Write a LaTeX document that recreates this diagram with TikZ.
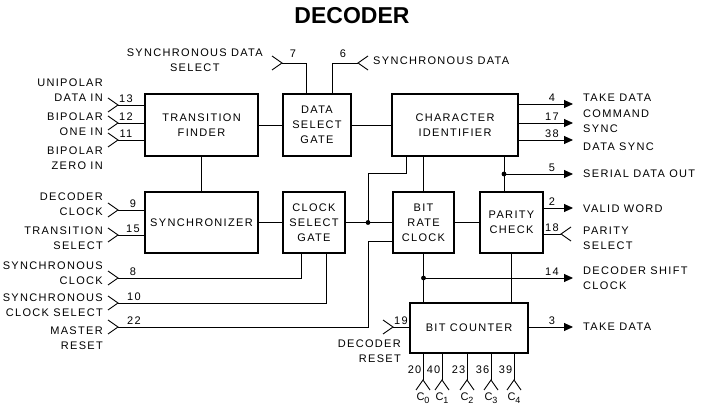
\documentclass[tikz,border=0pt]{standalone}
\usepackage{fontspec}
\setmainfont{Liberation Sans}[LetterSpace=12]
\newfontfamily\titlefont{Liberation Sans}
\usetikzlibrary{arrows.meta,positioning}
\newcommand{\lbl}{\fontsize{11pt}{15pt}\selectfont}
\newcommand{\csub}[1]{C\raisebox{-3pt}{\fontsize{9pt}{9pt}\selectfont #1}}

\begin{document}
\begin{tikzpicture}[
    x=1pt, y=-1pt,
    font=\lbl,
    node distance=25pt,
    blk/.style={draw, line width=1.6pt, outer sep=0pt, align=center, inner sep=0pt, minimum height=62pt},
    wire/.style={line width=0.9pt},
    outp/.style={wire, -{Triangle[length=9pt, width=8pt]}},
    inpin/.pic={\draw[wire] (-10,-7) -- (0,0) -- (-10,7);},
    pinno/.style={anchor=south, yshift=2.5pt, inner sep=0pt},
    cno/.style={anchor=east, inner sep=0pt, xshift=-1.5pt, yshift=10pt},
    clbl/.style={inner sep=0pt, yshift=-18pt},
    lblL/.style={anchor=east, align=right, inner sep=0pt},
    lblR/.style={anchor=west, align=left, inner sep=0pt}
]
\useasboundingbox (0,0) rectangle (704,411);
\node[font=\titlefont\fontsize{23pt}{23pt}\selectfont\bfseries] (title) at (352,16) {DECODER};

% blocks
\node[blk, minimum width=113pt] (tf) at (201.5,125) {TRANSITION\\FINDER};
\node[blk, minimum width=68pt, right=of tf] (dsg) {DATA\\SELECT\\GATE};
\node[blk, minimum width=126pt, right=41pt of dsg] (ci) {CHARACTER\\IDENTIFIER};
\node[blk, minimum width=113pt, minimum height=61pt, below=36pt of tf] (sync) {SYNCHRONIZER};
\node[blk, minimum width=62pt, minimum height=61pt, right=of sync] (csg) {CLOCK\\SELECT\\GATE};
\node[blk, minimum width=61pt, minimum height=61pt, right=48pt of csg] (brc) {BIT\\RATE\\CLOCK};
\node[blk, minimum width=63pt, minimum height=61pt, right=26pt of brc] (pc) {PARITY\\CHECK};
\node[blk, minimum width=118pt, minimum height=50pt] (bc) at (469,328) {BIT COUNTER};

% pin ends
\coordinate (p13) at (118,105);
\coordinate (p12) at (118,123);
\coordinate (p11) at (118,140);
\coordinate (p9) at (118,210);
\coordinate (p15) at (118,235);
\coordinate (p8) at (118,278);
\coordinate (p10) at (118,303);
\coordinate (p22) at (118,327);
\coordinate (p7) at (282,63);
\coordinate (p6) at (358,63);
\coordinate (p19) at (393,327);
\coordinate (p18) at (561,234);
\coordinate (o4) at (573,104);
\coordinate (o17) at (573,123);
\coordinate (o38) at (573,140);
\coordinate (o5) at (573,174);
\coordinate (o2) at (573,208);
\coordinate (o14) at (573,278);
\coordinate (o3) at (573,327);
\coordinate (c0) at (423,380);
\coordinate (c1) at (442,380);
\coordinate (c2) at (467,380);
\coordinate (c3) at (491,380);
\coordinate (c4) at (514,380);

% input markers
\path (p13) pic{inpin} (p12) pic{inpin} (p11) pic{inpin}
      (p9) pic{inpin} (p15) pic{inpin} (p8) pic{inpin}
      (p10) pic{inpin} (p22) pic{inpin} (p7) pic{inpin} (p19) pic{inpin};
\path (p6) pic[rotate=180]{inpin} (p18) pic[rotate=180]{inpin};
\path (c0) pic[rotate=90]{inpin} (c1) pic[rotate=90]{inpin} (c2) pic[rotate=90]{inpin}
      (c3) pic[rotate=90]{inpin} (c4) pic[rotate=90]{inpin};

% block to block
\draw[wire] (tf) -- (dsg);
\draw[wire] (dsg) -- (ci);
\draw[wire] (tf) -- (sync);
\draw[wire] (sync) -- (csg);
\draw[wire] (csg) -- (brc);
\draw[wire] (brc) -- (pc);
\draw[wire] (brc) -- (brc |- ci.south);
\draw[wire] (brc) -- (brc |- bc.north);
\draw[wire] (pc) -- (pc |- bc.north);

% junctions
\coordinate (j1) at ([xshift=23pt]csg.east);
\coordinate (j2) at (504,174);
\coordinate (j3) at (brc.south |- o14);
\draw[wire] (j1) -- ++(0,-49.5) -| ([xshift=14pt]ci.south west);
\draw[wire] (j2 |- ci.south) -- (j2 |- pc.north);
\draw[outp] (j2) -- (o5);
\draw[outp] (j3) -- (o14);
\fill (j1) circle[radius=2.4pt] (j2) circle[radius=2.4pt] (j3) circle[radius=2.4pt];

% inputs
\draw[wire] (p13) -- (tf.west |- p13);
\draw[wire] (p12) -- (tf.west |- p12);
\draw[wire] (p11) -- (tf.west |- p11);
\draw[wire] (p9) -- (sync.west |- p9);
\draw[wire] (p15) -- (sync.west |- p15);
\draw[wire] (p8) -| ([xshift=-13pt]csg.south);
\draw[wire] (p10) -| ([xshift=12pt]csg.south);
\draw[wire] (p22) -| ([xshift=-25pt,yshift=-18.5pt]brc.west) -- ([yshift=-18.5pt]brc.west);
\draw[wire] (p7) -| ([xshift=-11pt]dsg.north);
\draw[wire] (p6) -| ([xshift=15pt]dsg.north);
\draw[wire] (p19) -- (bc.west |- p19);
\draw[wire] (p18) -- (pc.east |- p18);
\draw[wire] (c0) -- (c0 |- bc.south);
\draw[wire] (c1) -- (c1 |- bc.south);
\draw[wire] (c2) -- (c2 |- bc.south);
\draw[wire] (c3) -- (c3 |- bc.south);
\draw[wire] (c4) -- (c4 |- bc.south);

% outputs
\draw[outp] (ci.east |- o4) -- (o4);
\draw[outp] (ci.east |- o17) -- (o17);
\draw[outp] (ci.east |- o38) -- (o38);
\draw[outp] (pc.east |- o2) -- (o2);
\draw[outp] (bc.east |- o3) -- (o3);

% pin numbers
\node[pinno] at ([xshift=8pt]p13) {13};
\node[pinno] at ([xshift=8pt]p12) {12};
\node[pinno] at ([xshift=8pt]p11) {11};
\node[pinno] at ([xshift=15pt]p9) {9};
\node[pinno] at ([xshift=15pt]p15) {15};
\node[pinno] at ([xshift=15pt]p8) {8};
\node[pinno] at ([xshift=16pt]p10) {10};
\node[pinno] at ([xshift=16pt]p22) {22};
\node[pinno] at ([xshift=11pt,yshift=3pt]p7) {7};
\node[pinno] at ([xshift=-15pt,yshift=3pt]p6) {6};
\node[pinno] at ([xshift=8pt]p19) {19};
\node[pinno] at ([xshift=-9pt]p18) {18};
\node[pinno] at ([xshift=-21pt]o4) {4};
\node[pinno] at ([xshift=-21pt]o17) {17};
\node[pinno] at ([xshift=-21pt]o38) {38};
\node[pinno] at ([xshift=-21pt]o5) {5};
\node[pinno] at ([xshift=-21pt]o2) {2};
\node[pinno] at ([xshift=-21pt]o14) {14};
\node[pinno] at ([xshift=-21pt]o3) {3};
\node[cno] at (c0) {20};
\node[cno] at (c1) {40};
\node[cno] at (c2) {23};
\node[cno] at (c3) {36};
\node[cno] at (c4) {39};
\node[clbl] at (c0) {\csub{0}};
\node[clbl] at (c1) {\csub{1}};
\node[clbl] at (c2) {\csub{2}};
\node[clbl] at (c3) {\csub{3}};
\node[clbl] at (c4) {\csub{4}};

% labels
\node[lblL] at (103,90.5) {UNIPOLAR\\DATA IN};
\node[lblL] at (103,124) {BIPOLAR\\ONE IN};
\node[lblL] at (103,158.5) {BIPOLAR\\ZERO IN};
\node[lblL] at (103,204) {DECODER\\CLOCK};
\node[lblL] at (103,238) {TRANSITION\\SELECT};
\node[lblL] at (103,273) {SYNCHRONOUS\\CLOCK};
\node[lblL] at (103,305) {SYNCHRONOUS\\CLOCK SELECT};
\node[lblL] at (103,338) {MASTER\\RESET};
\node[lblL, align=center] at (263,60) {SYNCHRONOUS DATA\\SELECT};
\node[lblR] at (373,61) {SYNCHRONOUS DATA};
\node[lblL] at (401,351) {DECODER\\RESET};
\node[lblR] at (583,97.5) {TAKE DATA};
\node[lblR] at (583,121.5) {COMMAND\\SYNC};
\node[lblR] at (583,147) {DATA SYNC};
\node[lblR] at (583,174) {SERIAL DATA OUT};
\node[lblR] at (583,209) {VALID WORD};
\node[lblR] at (583,238) {PARITY\\SELECT};
\node[lblR] at (583,278) {DECODER SHIFT\\CLOCK};
\node[lblR] at (583,327) {TAKE DATA};
\end{tikzpicture}
\end{document}
